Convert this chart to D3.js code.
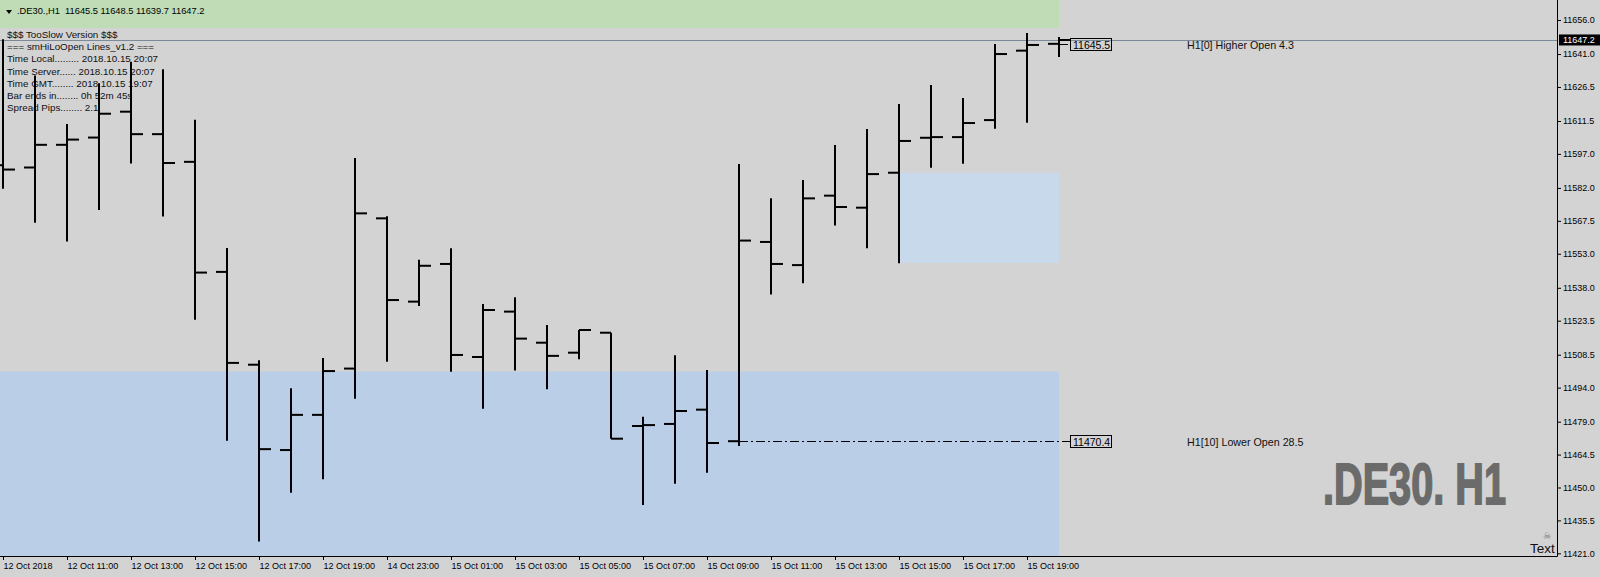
<!DOCTYPE html>
<html>
<head>
<meta charset="utf-8">
<style>
body { margin: 0; background: #d3d3d3; }
svg { display: block; }
.info { font: 9.8px "Liberation Sans", Arial, sans-serif; fill: #111; }
.axis text { font: 9px "Liberation Sans", Arial, sans-serif; fill: #000; }
.axis line { stroke: #000; }
</style>
</head>
<body>
<script src="https://d3js.org/d3.v7.min.js"></script>
<script>
// hourly bars, .DE30 H1
var barTimes = ["12 Oct 09:00","12 Oct 10:00","12 Oct 11:00","12 Oct 12:00","12 Oct 13:00","12 Oct 14:00",
  "12 Oct 15:00","12 Oct 16:00","12 Oct 17:00","12 Oct 18:00","12 Oct 19:00","12 Oct 20:00",
  "14 Oct 23:00","15 Oct 00:00","15 Oct 01:00","15 Oct 02:00","15 Oct 03:00","15 Oct 04:00",
  "15 Oct 05:00","15 Oct 06:00","15 Oct 07:00","15 Oct 08:00","15 Oct 09:00","15 Oct 10:00",
  "15 Oct 11:00","15 Oct 12:00","15 Oct 13:00","15 Oct 14:00","15 Oct 15:00","15 Oct 16:00",
  "15 Oct 17:00","15 Oct 18:00","15 Oct 19:00","15 Oct 20:00"];

var openP  = [11592.0,11591.0,11601.0,11604.2,11615.6,11605.7,11593.5,11545.0,11504.1,11466.5,11482.0,11502.4,
  11568.6,11531.9,11548.5,11507.5,11527.5,11513.8,11509.4,11518.2,11477.1,11478.0,11484.3,11470.4,
  11558.2,11548.0,11578.6,11573.3,11588.7,11604.1,11604.4,11611.9,11642.5,11645.5];
var highP  = [11647.5,11631.5,11610.2,11628.1,11637.6,11634.3,11612.0,11555.5,11506.1,11493.7,11507.1,11595.2,
  11569.5,11550.3,11555.4,11530.9,11533.8,11521.6,11519.4,11518.2,11481.2,11508.3,11501.8,11592.6,
  11577.4,11585.5,11600.9,11608.0,11619.0,11627.4,11621.6,11645.4,11650.3,11648.5];
var lowP   = [11581.6,11566.7,11558.4,11572.3,11592.8,11569.4,11523.9,11470.6,11426.2,11447.7,11453.6,11489.1,
  11505.4,11530.0,11501.0,11484.7,11501.5,11493.3,11506.5,11471.5,11442.3,11451.7,11456.5,11468.3,
  11535.0,11540.0,11565.4,11555.4,11548.8,11590.9,11592.7,11608.1,11610.7,11639.7];
var closeP = [11590.1,11601.0,11603.3,11614.7,11605.7,11593.0,11544.7,11504.9,11466.9,11482.0,11501.3,11570.8,
  11532.6,11547.7,11508.4,11528.2,11515.6,11508.0,11519.4,11471.5,11477.5,11483.7,11469.6,11558.8,
  11548.5,11577.4,11573.6,11588.1,11602.7,11604.4,11610.6,11641.0,11645.0,11647.2];

var xTickLabels = ["12 Oct 2018","12 Oct 11:00","12 Oct 13:00","12 Oct 15:00","12 Oct 17:00","12 Oct 19:00",
  "14 Oct 23:00","15 Oct 01:00","15 Oct 03:00","15 Oct 05:00","15 Oct 07:00","15 Oct 09:00",
  "15 Oct 11:00","15 Oct 13:00","15 Oct 15:00","15 Oct 17:00","15 Oct 19:00"];
var yTicks = [11656.0,11641.0,11626.5,11611.5,11597.0,11582.0,11567.5,11553.0,11538.0,
  11523.5,11508.5,11494.0,11479.0,11464.5,11450.0,11435.5,11421.0];

// zones [top price, bottom price]
var greenZone = [11670, 11652.5];
var lowZone = [11501.1, 11400];
var boxZone = [11588.7, 11549.0];
var boxFrom = 28;

var bidPrice = 11647.2;
var higherOpen = {bar: 33, price: 11645.5, text: "H1[0] Higher Open 4.3"};
var lowerOpen = {bar: 23, price: 11470.4, text: "H1[10] Lower Open 28.5"};

var infoLines = ["$$$ TooSlow Version $$$",
  "=== smHiLoOpen Lines_v1.2 ===",
  "Time Local......... 2018.10.15 20:07",
  "Time Server...... 2018.10.15 20:07",
  "Time GMT........ 2018.10.15 19:07",
  "Bar ends in........ 0h 52m 45s",
  "Spread Pips........ 2.1"];

var width = 1600, height = 577,
    plotRight = 1557, plotBottom = 556;

var bars = barTimes.map(function(t, i) {
  return {t: t, o: openP[i], h: highP[i], l: lowP[i], c: closeP[i]};
});

var x = d3.scalePoint().domain(barTimes).range([3, 1059]);
var y = d3.scaleLinear().domain([11421, 11656]).range([553.3, 20]);
function yc(p) { return Math.max(0, Math.min(plotBottom, y(p))); }

var svg = d3.select("body").append("svg")
    .attr("width", width)
    .attr("height", height);

svg.append("rect").attr("width", width).attr("height", height).attr("fill", "#d3d3d3");

var lastX = x(barTimes[barTimes.length - 1]);

// zones
svg.append("rect")
    .attr("x", 0).attr("y", yc(greenZone[0]))
    .attr("width", lastX).attr("height", yc(greenZone[1]) - yc(greenZone[0]))
    .attr("fill", "#bfdcb6");
svg.append("rect")
    .attr("x", 0).attr("y", yc(lowZone[0]))
    .attr("width", lastX).attr("height", yc(lowZone[1]) - yc(lowZone[0]))
    .attr("fill", "#bacee7");
svg.append("rect")
    .attr("x", x(barTimes[boxFrom])).attr("y", yc(boxZone[0]))
    .attr("width", lastX - x(barTimes[boxFrom])).attr("height", yc(boxZone[1]) - yc(boxZone[0]))
    .attr("fill", "#c8d9eb");

// bid line
svg.append("line")
    .attr("x1", 0).attr("x2", plotRight)
    .attr("y1", Math.round(y(bidPrice)) + 0.5).attr("y2", Math.round(y(bidPrice)) + 0.5)
    .attr("stroke", "#7b8a99");

// info text
svg.selectAll(".info")
    .data(infoLines)
    .enter().append("text")
    .attr("class", "info")
    .attr("x", 7)
    .attr("y", function(d, i) { return 38 + i * 12.2; })
    .text(function(d) { return d; });

// OHLC bars
var g = svg.append("g").attr("stroke", "#000").attr("stroke-width", 2);
var bar = g.selectAll("g.bar").data(bars).enter().append("g").attr("class", "bar");
bar.append("line")
    .attr("x1", function(d) { return x(d.t); }).attr("x2", function(d) { return x(d.t); })
    .attr("y1", function(d) { return y(d.h); }).attr("y2", function(d) { return y(d.l); });
bar.append("line")
    .attr("x1", function(d) { return x(d.t) - 11; }).attr("x2", function(d) { return x(d.t); })
    .attr("y1", function(d) { return y(d.o); }).attr("y2", function(d) { return y(d.o); });
bar.append("line")
    .attr("x1", function(d) { return x(d.t); }).attr("x2", function(d) { return x(d.t) + 12; })
    .attr("y1", function(d) { return y(d.c); }).attr("y2", function(d) { return y(d.c); });

// open level lines with labels
[higherOpen, lowerOpen].forEach(function(o) {
  var yy = Math.round(y(o.price)) + 0.5;
  svg.append("line")
      .attr("x1", x(barTimes[o.bar])).attr("x2", 1070)
      .attr("y1", yy).attr("y2", yy)
      .attr("stroke", "#000")
      .attr("stroke-dasharray", "9,3,2,3");
  svg.append("rect")
      .attr("x", 1070.5).attr("y", yy - 6)
      .attr("width", 41).attr("height", 12)
      .attr("fill", "none").attr("stroke", "#000");
  svg.append("text")
      .attr("x", 1073).attr("y", yy + 4)
      .style("font", "10.5px 'Liberation Sans', Arial, sans-serif")
      .text(d3.format(".1f")(o.price));
  svg.append("text")
      .attr("x", 1187).attr("y", yy + 4)
      .style("font", "10.7px 'Liberation Sans', Arial, sans-serif")
      .attr("fill", "#111")
      .text(o.text);
});

// header
svg.append("path").attr("d", "M6,10L12,10L9,14Z").attr("fill", "#000");
svg.append("text")
    .attr("x", 17).attr("y", 14)
    .style("font", "9.3px 'Liberation Sans', Arial, sans-serif")
    .attr("fill", "#000")
    .attr("xml:space", "preserve")
    .text(".DE30.,H1  " + [openP[33], highP[33], lowP[33], closeP[33]].map(d3.format(".1f")).join(" "));

// watermark, squeezed to look like a condensed face
svg.append("text")
    .attr("transform", "translate(1323,504) scale(0.696,1)")
    .style("font", "bold 57px 'Liberation Sans', Arial, sans-serif")
    .attr("fill", "#6b6b6b").attr("stroke", "#6b6b6b").attr("stroke-width", 1.8)
    .text(".DE30. H1");

svg.append("text")
    .attr("x", 1543).attr("y", 539)
    .style("font", "9px 'DejaVu Sans', sans-serif")
    .attr("fill", "#777")
    .text("\u2620");
svg.append("text")
    .attr("x", 1530).attr("y", 553)
    .style("font", "13.5px 'Liberation Sans', Arial, sans-serif")
    .attr("fill", "#111")
    .text("Text");

// axes
var yAxis = d3.axisRight(y).tickValues(yTicks).tickFormat(d3.format(".1f")).tickSize(4).tickPadding(2);
svg.append("g").attr("class", "axis")
    .attr("transform", "translate(" + plotRight + ",0)")
    .call(yAxis)
    .call(function(s) { s.select(".domain").remove(); });

var evenTimes = barTimes.filter(function(d, i) { return i % 2 === 0; });
var xAxis = d3.axisBottom(x).tickValues(evenTimes)
    .tickFormat(function(d, i) { return xTickLabels[i]; })
    .tickSize(4).tickPadding(3);
svg.append("g").attr("class", "axis")
    .attr("transform", "translate(0," + plotBottom + ")")
    .call(xAxis)
    .call(function(s) {
      s.select(".domain").remove();
      s.selectAll("text").attr("text-anchor", "start").attr("dx", 0);
    });

svg.append("path")
    .attr("d", "M0," + (plotBottom + 0.5) + "H" + (plotRight + 0.5) + "V0")
    .attr("fill", "none").attr("stroke", "#000");

// current price tag
svg.append("rect")
    .attr("x", 1559).attr("y", y(bidPrice) - 5.5)
    .attr("width", 41).attr("height", 11)
    .attr("fill", "#000");
svg.append("text")
    .attr("x", 1563).attr("y", y(bidPrice) + 3.5)
    .style("font", "9px 'Liberation Sans', Arial, sans-serif")
    .attr("fill", "#fff")
    .text(d3.format(".1f")(bidPrice));
</script>
</body>
</html>
